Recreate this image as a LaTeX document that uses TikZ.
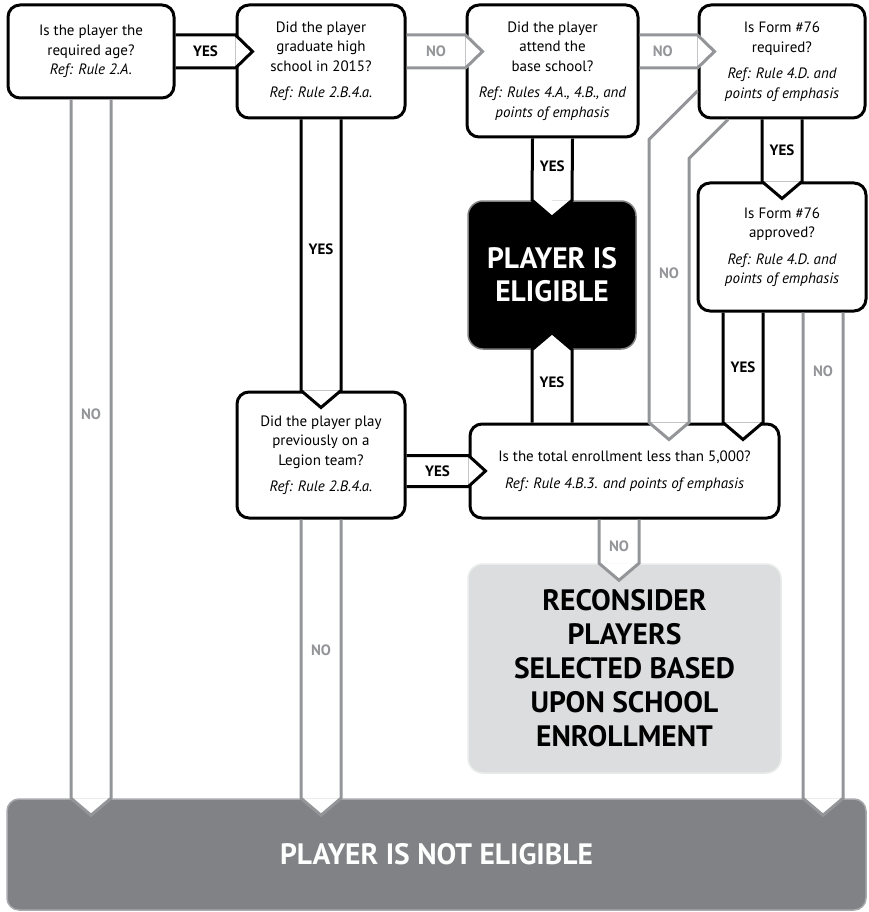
\documentclass[tikz,border=0pt]{standalone}
\usepackage{fontspec}
\setmainfont{PT Sans}
\usetikzlibrary{calc}

\definecolor{nogray}{HTML}{939598}
\definecolor{darkbox}{HTML}{808285}
\definecolor{darkedge}{HTML}{A7A9AC}
\definecolor{lightbox}{HTML}{DCDDDE}
\definecolor{lightedge}{HTML}{E9EAEA}

\tikzset{
  question/.style={draw=black, line width=3pt, rounded corners=12pt, fill=white,
    align=center, inner sep=0pt, font=\fontsize{15}{19.5}\selectfont},
  bigbox/.style={rounded corners=15pt, line width=1.5pt, align=center, inner sep=0pt,
    font=\bfseries\fontsize{29.5}{33}\selectfont},
  yesarrow/.style={draw=black, line width=3pt},
  noarrow/.style={draw=nogray, line width=3pt},
  yestext/.style={font=\bfseries\fontsize{15}{16}\selectfont, text=black},
  notext/.style={font=\bfseries\fontsize{15}{16}\selectfont, text=nogray}
}

\newcommand{\reftext}[1]{{\fontsize{15}{19.5}\selectfont\itshape #1}}

% band arrow with a chevron that cuts into the target box
\newcommand{\flowarrow}[6][20pt]{%
  \fill[white] let \p1=(#3), \p2=(#4), \n1={atan2(\y2-\y1,\x2-\x1)} in
    ($(\p2)+(\n1+90:#1)$) -- ($(\p2)+(\n1:17pt)$) -- ($(\p2)+(\n1-90:#1)$) -- cycle;
  \draw[#2arrow] let \p1=(#3), \p2=(#4), \n1={atan2(\y2-\y1,\x2-\x1)} in
    ($(\p1)+(\n1+90:#1)$) -- ($(\p2)+(\n1+90:#1)$) -- ($(\p2)+(\n1:17pt)$)
    -- ($(\p2)+(\n1-90:#1)$) -- ($(\p1)+(\n1-90:#1)$);
  \path (#3) -- node[#2text, pos=#6] {#5} (#4);
}

\begin{document}
\begin{tikzpicture}[x=1pt, y=-1pt]
\useasboundingbox (0,0) rectangle (868,912);

% questions
\node[question, minimum width=166pt, minimum height=93pt] (age) at (91,51.5)
  {Is the player the\\ required age?\\ \reftext{Ref: Rule 2.A.}};
\node[question, minimum width=168pt, minimum height=113pt] (grad) at (321,61.5)
  {Did the player\\ graduate high\\ school in 2015?\\[7pt] \reftext{Ref: Rule 2.B.4.a.}};
\node[question, minimum width=171pt, minimum height=132pt] (school) at (552.5,71)
  {Did the player\\ attend the\\ base school?\\[7pt] \reftext{Ref: Rules 4.A., 4.B., and}\\ \reftext{points of emphasis}};
\node[question, minimum width=166pt, minimum height=113pt] (form) at (782,61.5)
  {Is Form \#76\\ required?\\[7pt] \reftext{Ref: Rule 4.D. and}\\ \reftext{points of emphasis}};
\node[question, minimum width=168pt, minimum height=128pt] (approve) at (782,247)
  {Is Form \#76\\ approved?\\[7pt] \reftext{Ref: Rule 4.D. and}\\ \reftext{points of emphasis}};
\node[question, minimum width=168pt, minimum height=126pt] (legion) at (321,455)
  {Did the player play\\ previously on a\\ Legion team?\\[7pt] \reftext{Ref: Rule 2.B.4.a.}};
\node[question, minimum width=309pt, minimum height=94pt] (enroll) at (624.5,471)
  {Is the total enrollment less than 5,000?\\[7pt] \reftext{Ref: Rule 4.B.3. and points of emphasis}};

% outcomes
\node[bigbox, fill=black, draw=gray, text=white, minimum width=168pt, minimum height=148pt]
  (eligible) at (552,275) {PLAYER IS\\ ELIGIBLE};
\node[bigbox, fill=lightbox, draw=lightedge, text=black, minimum width=313pt, minimum height=209pt,
  font=\bfseries\fontsize{29.5}{34}\selectfont]
  (reconsider) at (624.5,668.5) {RECONSIDER\\ PLAYERS\\ SELECTED BASED\\ UPON SCHOOL\\ ENROLLMENT};
\node[bigbox, fill=darkbox, draw=darkedge, text=white, rounded corners=12pt,
  minimum width=859pt, minimum height=111pt]
  (noteligible) at (436.5,854.5) {PLAYER IS NOT ELIGIBLE};

% yes / no bands
\flowarrow[16.5pt]{yes}{age.east}{grad.west |- age.east}{YES}{0.5}
\flowarrow[16.5pt]{no}{grad.east |- age.east}{school.west |- age.east}{NO}{0.5}
\flowarrow[16.5pt]{no}{school.east |- age.east}{form.west |- age.east}{NO}{0.4}
\flowarrow{yes}{form.south}{approve.north}{YES}{0.5}
\flowarrow{yes}{grad.south}{legion.north}{YES}{0.48}
\flowarrow{yes}{school.south}{eligible.north}{YES}{0.45}
\flowarrow{yes}{eligible.south |- enroll.north}{eligible.south}{YES}{0.55}
\flowarrow[15.5pt]{yes}{legion.east |- enroll.west}{enroll.west}{YES}{0.5}
\flowarrow{yes}{[xshift=-39pt]approve.south}{[xshift=-39pt]approve.south |- enroll.north}{YES}{0.5}
\flowarrow{no}{[xshift=41pt]approve.south}{[xshift=41pt]approve.south |- noteligible.north}{NO}{0.12}
\flowarrow{no}{[xshift=-5.5pt]enroll.south}{[xshift=-5.5pt]reconsider.north}{NO}{0.6}
\flowarrow{no}{age.south}{age.south |- noteligible.north}{NO}{0.45}
\flowarrow{no}{legion.south}{legion.south |- noteligible.north}{NO}{0.47}

% bent band from form to enrollment
\coordinate (dl0) at ([yshift=-29.5pt]form.west);
\coordinate (dr0) at ([xshift=-54pt]form.south);
\coordinate (dl1) at ($(dl0)+(-48.5,48.5)$);
\coordinate (dr1) at ($(dr0)+(-39,39)$);
\fill[white] (dl1 |- enroll.north) -- ++(20,17) -- (dr1 |- enroll.north) -- cycle;
\draw[noarrow] (dl0) -- (dl1) -- (dl1 |- enroll.north) -- ++(20,17)
  -- (dr1 |- enroll.north) -- (dr1) -- (dr0);
\path (dl1 |- 0,273) -- node[notext] {NO} (dr1 |- 0,273);
\end{tikzpicture}
\end{document}
